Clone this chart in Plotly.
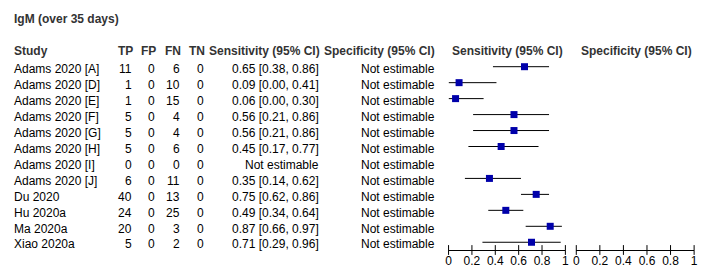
import plotly.graph_objects as go

# ---------------- data ----------------
title_text = "IgM (over 35 days)"
studies = ["Adams 2020 [A]", "Adams 2020 [D]", "Adams 2020 [E]", "Adams 2020 [F]",
           "Adams 2020 [G]", "Adams 2020 [H]", "Adams 2020 [I]", "Adams 2020 [J]",
           "Du 2020", "Hu 2020a", "Ma 2020a", "Xiao 2020a"]
tp = [11, 1, 1, 5, 5, 5, 0, 6, 40, 24, 20, 5]
fp = [0, 0, 0, 0, 0, 0, 0, 0, 0, 0, 0, 0]
fn = [6, 10, 15, 4, 4, 6, 0, 11, 13, 25, 3, 2]
tn = [0, 0, 0, 0, 0, 0, 0, 0, 0, 0, 0, 0]
sens = [0.65, 0.09, 0.06, 0.56, 0.56, 0.45, None, 0.35, 0.75, 0.49, 0.87, 0.71]
sens_lo = [0.38, 0.00, 0.00, 0.21, 0.21, 0.17, None, 0.14, 0.62, 0.34, 0.66, 0.29]
sens_hi = [0.86, 0.41, 0.30, 0.86, 0.86, 0.77, None, 0.62, 0.86, 0.64, 0.97, 0.96]
tick_vals = [0, 0.2, 0.4, 0.6, 0.8, 1]
tick_text = ["0", "0.2", "0.4", "0.6", "0.8", "1"]
headers = ["Study", "TP", "FP", "FN", "TN", "Sensitivity (95% CI)", "Specificity (95% CI)"]
not_est = "Not estimable"

# ---------------- layout constants ----------------
W, H = 709, 276
ROW0, ROWH = 66.7, 15.96          # pixel y of first row marker, row spacing


def yrow(p):
    return (p - ROW0) / ROWH


def px(x):
    return x / W


FONT = "Arial, Liberation Sans, sans-serif"
n = len(studies)
rows = list(range(n))
AXIS_Y_PX = 250

fig = go.Figure()

# Sensitivity forest points
xs, ys, ep, em = [], [], [], []
for i in rows:
    if sens[i] is None:
        continue
    xs.append(sens[i])
    ys.append(i)
    ep.append(sens_hi[i] - sens[i])
    em.append(sens[i] - sens_lo[i])
fig.add_trace(go.Scatter(
    x=xs, y=ys, mode="markers",
    marker=dict(symbol="square", size=7, color="#0000AA", line=dict(width=0)),
    error_x=dict(type="data", array=ep, arrayminus=em, width=0, thickness=1, color="black"),
    cliponaxis=False, showlegend=False, hoverinfo="skip", xaxis="x", yaxis="y"))

# tick marks crossing the axis lines
for xa in ["x", "x2"]:
    fig.add_trace(go.Scatter(
        x=tick_vals, y=[yrow(AXIS_Y_PX)] * len(tick_vals), mode="markers",
        marker=dict(symbol="line-ns", size=7, line=dict(width=1, color="black")),
        cliponaxis=False, showlegend=False, hoverinfo="skip", xaxis=xa, yaxis="y"))

ann = []
# title
ann.append(dict(text="<b>" + title_text + "</b>", x=px(9), y=yrow(18.5), xanchor="left",
                 font=dict(size=12, color="#333333", family=FONT)))
# headers
hdr_y = yrow(50.7)
hdr_pos = [(9, "left"), (133, "right"), (157, "right"), (181.5, "right"), (206, "right"),
           (322, "right"), (438.5, "right")]
for h, (x, a) in zip(headers, hdr_pos):
    ann.append(dict(text="<b>" + h + "</b>", x=px(x), y=hdr_y, xanchor=a,
                    font=dict(size=12, color="#333333", family=FONT)))
ann.append(dict(text="<b>" + headers[5] + "</b>", x=px(510), y=hdr_y, xanchor="center",
                font=dict(size=12, color="#333333", family=FONT)))
ann.append(dict(text="<b>" + headers[6] + "</b>", x=px(640), y=hdr_y, xanchor="center",
                font=dict(size=12, color="#333333", family=FONT)))

# rows
for i in rows:
    ty = i + 0.14
    f = dict(size=12, color="black", family=FONT)
    ann.append(dict(text=studies[i], x=px(9), y=ty, xanchor="left", font=f))
    ann.append(dict(text=str(tp[i]), x=px(132), y=ty, xanchor="right", font=f))
    ann.append(dict(text=str(fp[i]), x=px(156), y=ty, xanchor="right", font=f))
    ann.append(dict(text=str(fn[i]), x=px(180.5), y=ty, xanchor="right", font=f))
    ann.append(dict(text=str(tn[i]), x=px(205), y=ty, xanchor="right", font=f))
    if sens[i] is None:
        st = not_est
    else:
        st = f"{sens[i]:.2f} [{sens_lo[i]:.2f}, {sens_hi[i]:.2f}]"
    ann.append(dict(text=st, x=px(321), y=ty, xanchor="right", font=f))
    ann.append(dict(text=not_est, x=px(438), y=ty, xanchor="right", font=f))

for a in ann:
    a.update(xref="paper", yref="y", yanchor="middle", showarrow=False)

axis_common = dict(range=[0, 1], anchor="free", position=(H - AXIS_Y_PX) / H,
                   showline=True, linecolor="black", linewidth=1, showgrid=False,
                   zeroline=False, ticks="", tickvals=tick_vals, ticktext=tick_text,
                   tickfont=dict(size=12, color="black", family=FONT), fixedrange=True)

fig.update_layout(
    width=W, height=H, margin=dict(l=0, r=0, t=0, b=0),
    paper_bgcolor="white", plot_bgcolor="white",
    xaxis=dict(domain=[px(450), px(568)], **axis_common),
    xaxis2=dict(domain=[px(579), px(698)], **axis_common),
    yaxis=dict(domain=[0, 1], range=[yrow(H), yrow(0)], visible=False, fixedrange=True),
    annotations=ann, showlegend=False,
)

fig.write_html("out.html", config={"displayModeBar": False},
               post_script="document.body.style.margin='0px';document.body.style.overflow='hidden';")
